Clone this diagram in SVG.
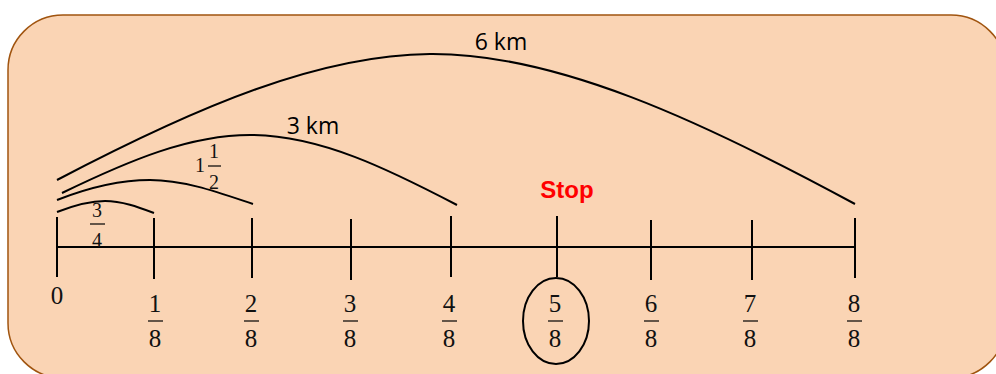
<svg xmlns="http://www.w3.org/2000/svg" width="996" height="374" viewBox="0 0 996 374">
<style>
.ln{stroke:#000;stroke-width:2;fill:none}
.bar{stroke:#000;stroke-width:1.2}
.d{font-family:"Liberation Serif",serif;font-size:25px;fill:#111;text-anchor:middle}
.s{font-family:"Liberation Serif",serif;font-size:20px;fill:#111;text-anchor:middle}
.km{font-family:"Open Sans","Liberation Sans",sans-serif;font-size:23px;fill:#000;text-anchor:middle}
</style>
<rect x="8" y="15" width="998" height="363" rx="55" ry="55" fill="#FAD4B4" stroke="#A0540F" stroke-width="1.5"/>
<g id="connectors">
<path class="ln" d="M57,180 C200,105 320,55 430,54 C555,53 700,120 855,204"/>
<path class="ln" d="M62,193 C130,160 190,135 250,135 C320,135 390,170 457,205"/>
<path class="ln" d="M57,200 C90,187 120,180 150,180 C185,180 220,193 253,204"/>
<path class="ln" d="M57,212 C75,205 90,201 105,201 C122,201 138,207 154,213"/>
</g>
<g id="numberline">
<line class="ln" x1="57" y1="247" x2="855" y2="247"/>
<line class="ln" x1="57" y1="217" x2="57" y2="277"/>
<line class="ln" x1="154" y1="218" x2="154" y2="279"/>
<line class="ln" x1="252" y1="218" x2="252" y2="278"/>
<line class="ln" x1="351" y1="219" x2="351" y2="280"/>
<line class="ln" x1="451" y1="216" x2="451" y2="277"/>
<line class="ln" x1="557" y1="216" x2="557" y2="277"/>
<line class="ln" x1="651" y1="220" x2="651" y2="280"/>
<line class="ln" x1="752" y1="220" x2="752" y2="280"/>
<line class="ln" x1="855" y1="218" x2="855" y2="278"/>
</g>
<g id="label-0"><text class="d" x="57" y="304">0</text></g>
<g id="label-1-8"><text class="d" x="155" y="312">1</text><line class="bar" x1="148" y1="321" x2="163" y2="321"/><text class="d" x="155" y="347">8</text></g>
<g id="label-2-8"><text class="d" x="251" y="312">2</text><line class="bar" x1="244" y1="321" x2="259" y2="321"/><text class="d" x="251" y="347">8</text></g>
<g id="label-3-8"><text class="d" x="350" y="312">3</text><line class="bar" x1="343" y1="321" x2="358" y2="321"/><text class="d" x="350" y="347">8</text></g>
<g id="label-4-8"><text class="d" x="449" y="312">4</text><line class="bar" x1="442" y1="321" x2="457" y2="321"/><text class="d" x="449" y="347">8</text></g>
<g id="label-5-8"><ellipse cx="556" cy="321" rx="33" ry="43" class="ln"/><text class="d" x="555" y="312">5</text><line class="bar" x1="548" y1="321" x2="563" y2="321"/><text class="d" x="555" y="347">8</text></g>
<g id="label-6-8"><text class="d" x="651" y="312">6</text><line class="bar" x1="644" y1="321" x2="659" y2="321"/><text class="d" x="651" y="347">8</text></g>
<g id="label-7-8"><text class="d" x="750" y="312">7</text><line class="bar" x1="743" y1="321" x2="758" y2="321"/><text class="d" x="750" y="347">8</text></g>
<g id="label-8-8"><text class="d" x="854" y="312">8</text><line class="bar" x1="847" y1="321" x2="862" y2="321"/><text class="d" x="854" y="347">8</text></g>
<g id="label-3-4"><text class="s" x="97" y="217">3</text><line class="bar" x1="90" y1="224" x2="105" y2="224"/><text class="s" x="97" y="247">4</text></g>
<g id="label-1-1-2"><text class="s" x="200" y="172">1</text><text class="s" x="214" y="158">1</text><line class="bar" x1="208" y1="166" x2="221" y2="166"/><text class="s" x="214" y="189">2</text></g>
<g id="label-3km"><text class="km" x="313" y="134">3 km</text></g>
<g id="label-6km"><text class="km" x="501" y="50">6 km</text></g>
<g id="label-stop"><text x="567" y="198" font-family="'Liberation Sans',sans-serif" font-weight="bold" font-size="24" fill="#FF0000" text-anchor="middle">Stop</text></g>
</svg>
